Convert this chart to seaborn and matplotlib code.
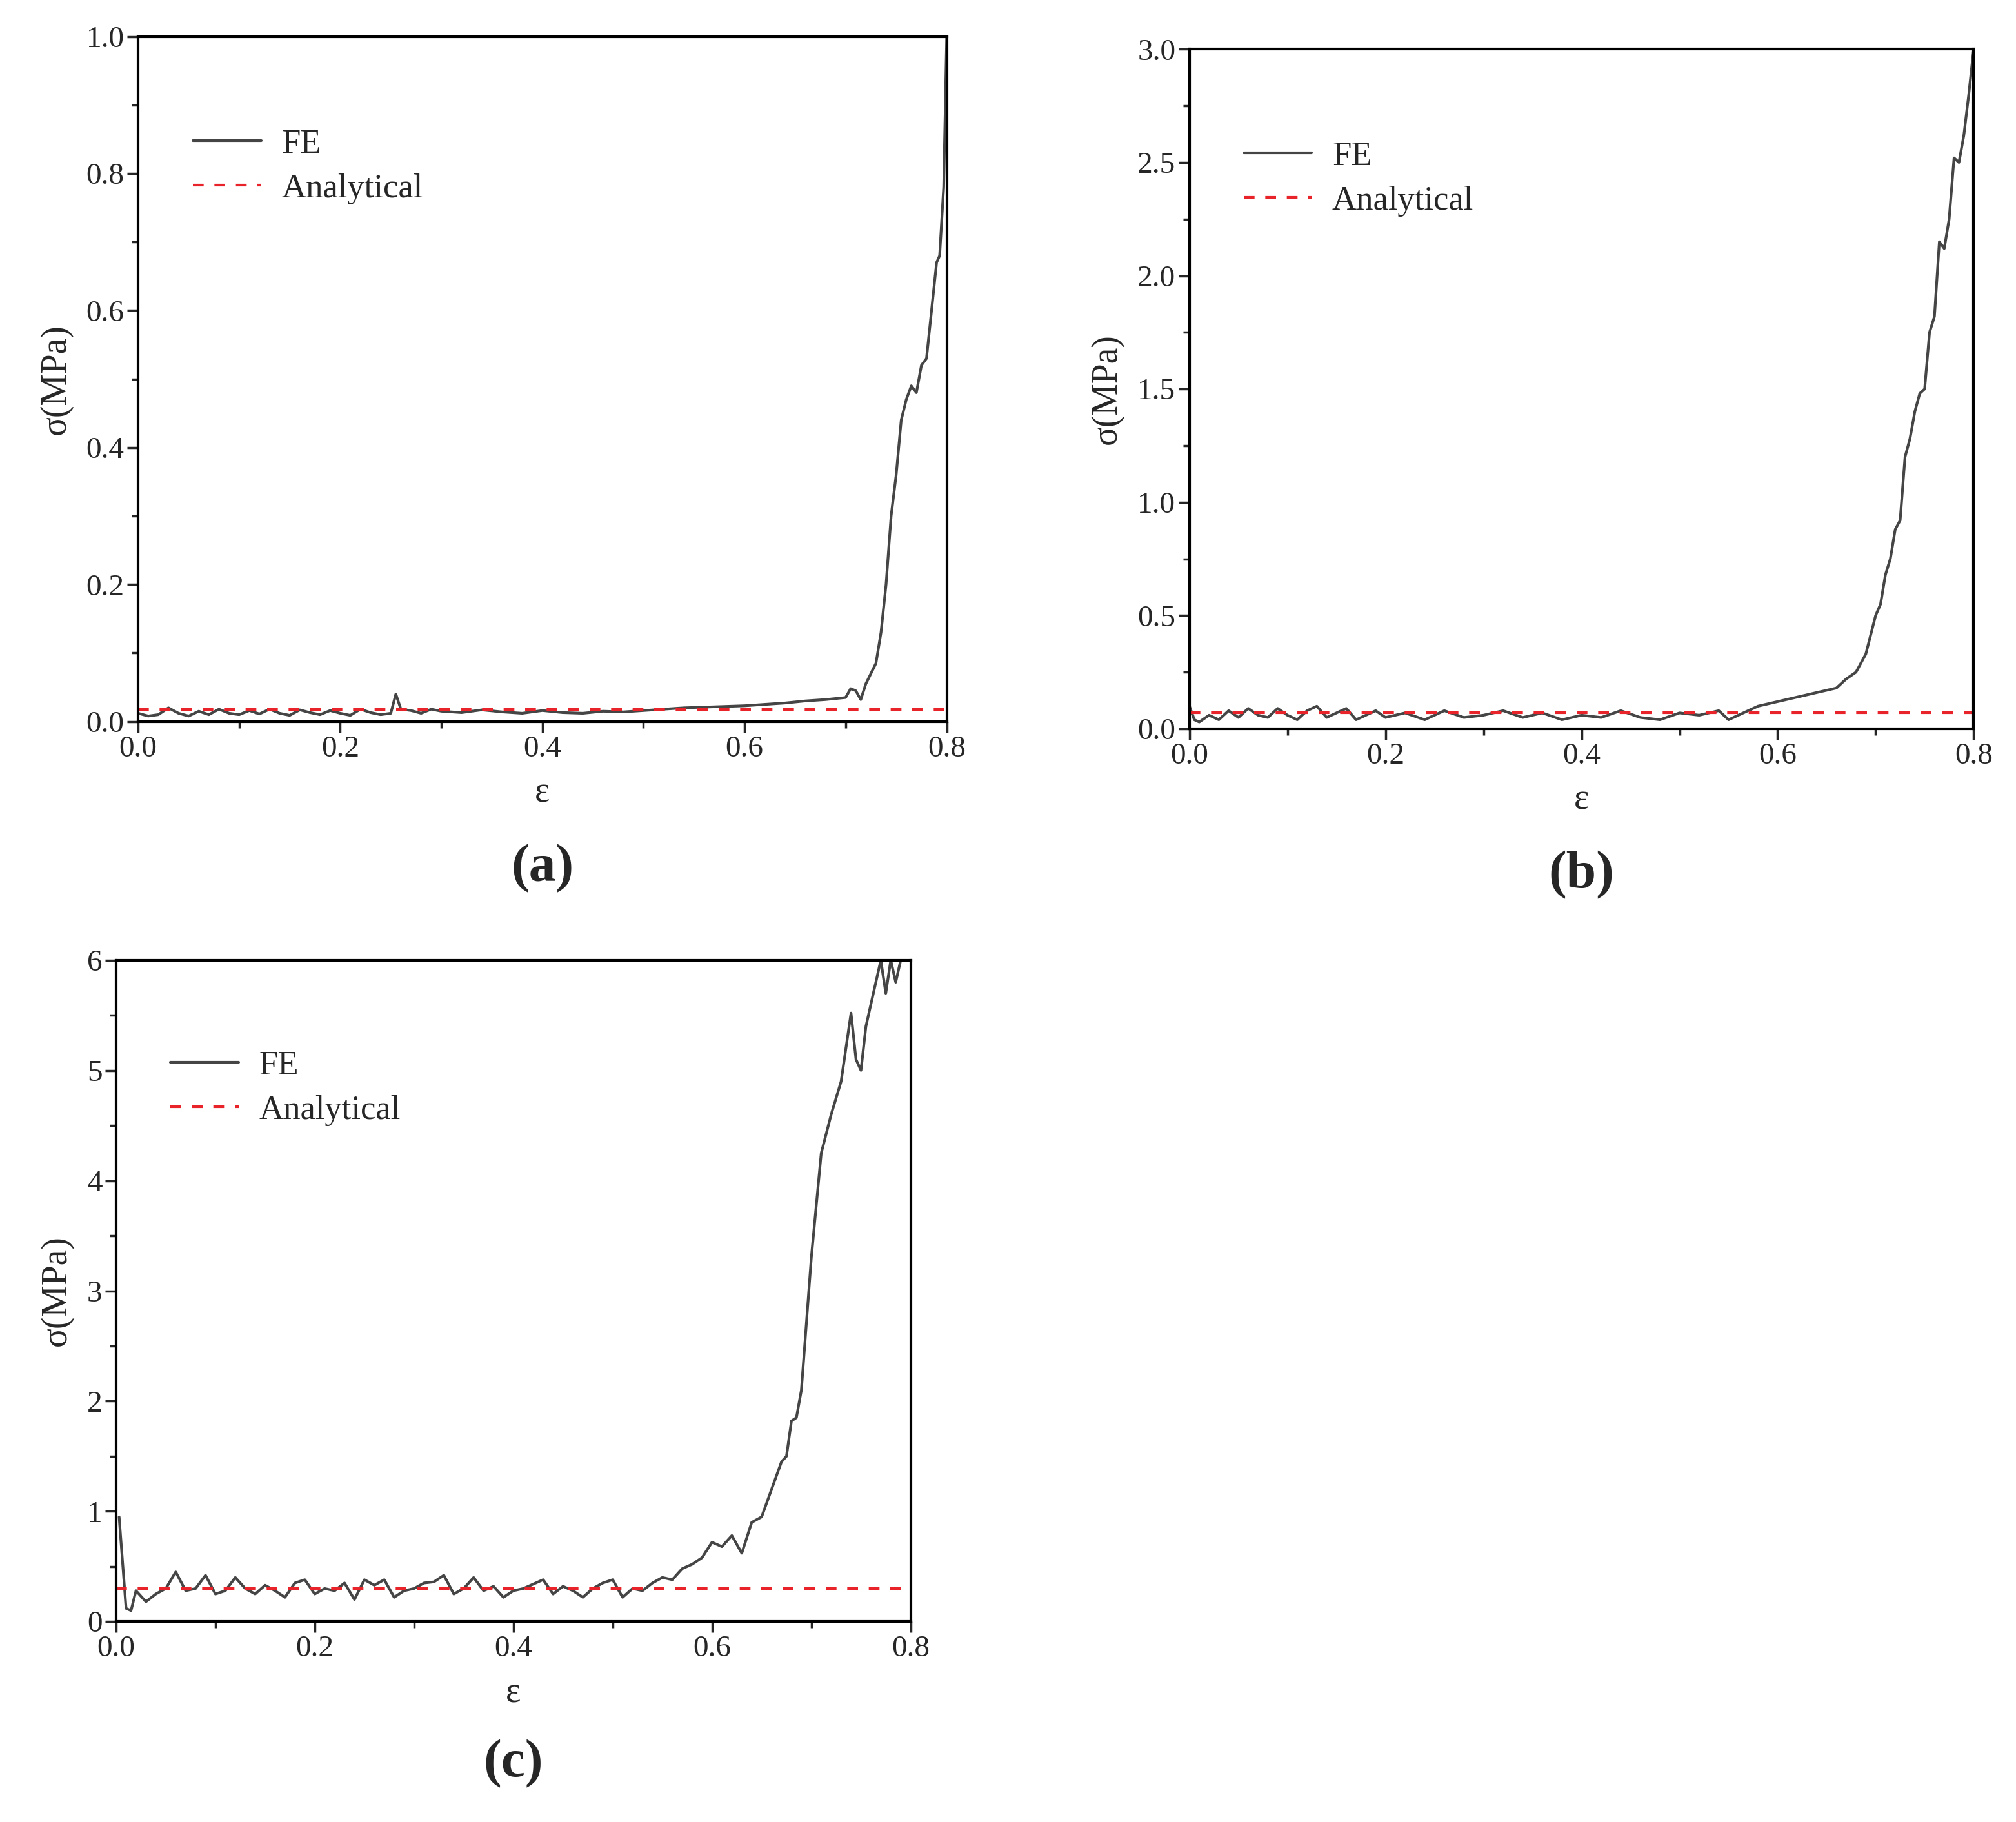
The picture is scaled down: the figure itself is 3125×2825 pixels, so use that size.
import numpy as np
import matplotlib
matplotlib.use("Agg")
import matplotlib.pyplot as plt
import seaborn as sns
import pandas as pd

sns.set_style("ticks")
plt.rcParams['font.family'] = ['Liberation Serif', 'DejaVu Serif']

# Panel (a)
a_eps_flat = [0.0,0.01,0.02,0.03,0.04,0.05,0.06,0.07,0.08,0.09,0.10,0.11,0.12,0.13,0.14,0.15,0.16,0.17,0.18,0.19,0.20,0.21,0.22,0.23,0.24,0.25,0.255,0.26,0.27,0.28,0.29,0.30,0.32,0.34,0.36,0.38,0.40,0.42,0.44,0.46,0.48,0.50,0.52,0.54,0.56,0.58,0.60,0.62,0.64,0.66,0.68,0.70]
a_sig_flat = [0.012,0.008,0.010,0.020,0.012,0.008,0.015,0.010,0.018,0.012,0.010,0.016,0.011,0.018,0.012,0.009,0.017,0.013,0.010,0.016,0.012,0.009,0.018,0.013,0.010,0.012,0.040,0.018,0.016,0.012,0.018,0.015,0.013,0.017,0.014,0.012,0.016,0.013,0.012,0.015,0.014,0.016,0.018,0.020,0.021,0.022,0.023,0.025,0.027,0.030,0.032,0.035]
a_eps_rise = [0.705,0.71,0.715,0.72,0.73,0.735,0.74,0.745,0.75,0.755,0.76,0.765,0.77,0.775,0.78,0.785,0.79,0.793,0.797,0.80]
a_sig_rise = [0.048,0.045,0.032,0.055,0.085,0.13,0.20,0.30,0.36,0.44,0.47,0.49,0.48,0.52,0.53,0.60,0.67,0.68,0.78,1.0]
a_analytical = 0.018

# Panel (b)
b_eps_flat = [0.0,0.005,0.01,0.02,0.03,0.04,0.05,0.06,0.07,0.08,0.09,0.10,0.11,0.12,0.13,0.14,0.15,0.16,0.17,0.18,0.19,0.20,0.22,0.24,0.26,0.28,0.30,0.32,0.34,0.36,0.38,0.40,0.42,0.44,0.46,0.48,0.50,0.52,0.54,0.55,0.56,0.58,0.60,0.62,0.64,0.66]
b_sig_flat = [0.10,0.04,0.03,0.06,0.04,0.08,0.05,0.09,0.06,0.05,0.09,0.06,0.04,0.08,0.10,0.05,0.07,0.09,0.04,0.06,0.08,0.05,0.07,0.04,0.08,0.05,0.06,0.08,0.05,0.07,0.04,0.06,0.05,0.08,0.05,0.04,0.07,0.06,0.08,0.04,0.06,0.10,0.12,0.14,0.16,0.18]
b_eps_rise = [0.67,0.68,0.69,0.70,0.705,0.71,0.715,0.72,0.725,0.73,0.735,0.74,0.745,0.75,0.755,0.76,0.765,0.77,0.775,0.78,0.785,0.79,0.795,0.80]
b_sig_rise = [0.22,0.25,0.33,0.50,0.55,0.68,0.75,0.88,0.92,1.20,1.28,1.40,1.48,1.50,1.75,1.82,2.15,2.12,2.25,2.52,2.50,2.62,2.80,3.0]
b_analytical = 0.07

# Panel (c)
c_eps_flat = [0.003,0.01,0.015,0.02,0.03,0.04,0.05,0.06,0.07,0.08,0.09,0.10,0.11,0.12,0.13,0.14,0.15,0.16,0.17,0.18,0.19,0.20,0.21,0.22,0.23,0.24,0.25,0.26,0.27,0.28,0.29,0.30,0.31,0.32,0.33,0.34,0.35,0.36,0.37,0.38,0.39,0.40,0.41,0.42,0.43,0.44,0.45,0.46,0.47,0.48,0.49,0.50,0.51,0.52,0.53,0.54,0.55,0.56]
c_sig_flat = [0.95,0.12,0.10,0.28,0.18,0.25,0.30,0.45,0.28,0.30,0.42,0.25,0.28,0.40,0.30,0.25,0.33,0.28,0.22,0.35,0.38,0.25,0.30,0.28,0.35,0.20,0.38,0.33,0.38,0.22,0.28,0.30,0.35,0.36,0.42,0.25,0.30,0.40,0.28,0.32,0.22,0.28,0.30,0.34,0.38,0.25,0.32,0.28,0.22,0.30,0.35,0.38,0.22,0.30,0.28,0.35,0.40,0.38]
c_eps_rise = [0.57,0.58,0.59,0.60,0.61,0.62,0.63,0.64,0.65,0.66,0.67,0.675,0.68,0.685,0.69,0.70,0.71,0.72,0.73,0.74,0.745,0.75,0.755,0.76,0.77,0.775,0.78,0.785,0.79]
c_sig_rise = [0.48,0.52,0.58,0.72,0.68,0.78,0.62,0.90,0.95,1.20,1.45,1.50,1.82,1.85,2.10,3.30,4.25,4.60,4.90,5.52,5.10,5.00,5.40,5.60,6.00,5.70,6.00,5.80,6.00]
c_analytical = 0.30

panels = [
    (a_eps_flat + a_eps_rise, a_sig_flat + a_sig_rise, a_analytical, [0.0685,0.604,0.4011,0.376], (0,1.0), np.arange(0,1.01,0.2), "{:.1f}", 0.1, "(a)"),
    (b_eps_flat + b_eps_rise, b_sig_flat + b_sig_rise, b_analytical, [0.590,0.600,0.389,0.373], (0,3.0), np.arange(0,3.01,0.5), "{:.1f}", 0.25, "(b)"),
    (c_eps_flat + c_eps_rise, c_sig_flat + c_sig_rise, c_analytical, [0.0576,0.110,0.3941,0.363], (0,6), np.arange(0,6.1,1), "{:.0f}", 0.5, "(c)"),
]

fig = plt.figure(figsize=(31.25, 28.25), dpi=100)
for eps, sig, ana, rect, ylim, yt, fmt, minor, lab in panels:
    ax = fig.add_axes(rect)
    df = pd.DataFrame({"eps": eps, "sig": sig})
    sns.lineplot(data=df, x="eps", y="sig", ax=ax, color="#454545", lw=3, label="FE", sort=True)
    ax.plot([0, 0.8], [ana, ana], ls=(0, (4, 4)), color="#e8232a", lw=3, label="Analytical")
    ax.set_xlim(0, 0.8)
    ax.set_ylim(*ylim)
    ax.set_xticks(np.arange(0, 0.81, 0.2))
    ax.set_xticklabels(["{:.1f}".format(v) for v in np.arange(0, 0.81, 0.2)])
    ax.set_xticks(np.arange(0.1, 0.8, 0.2), minor=True)
    ax.set_yticks(yt)
    ax.set_yticklabels([fmt.format(v) for v in yt])
    ax.set_yticks(np.arange(minor, ylim[1], minor*2), minor=True)
    ax.tick_params(axis='both', which='major', direction='out', length=12, width=2.5, labelsize=34)
    ax.tick_params(axis='both', which='minor', direction='out', length=7, width=2.5)
    for s in ax.spines.values():
        s.set_linewidth(3); s.set_color("black"); s.set_visible(True)
    ax.set_xlabel("ε", fontsize=40, labelpad=15)
    ax.set_ylabel("σ(MPa)", fontsize=40, labelpad=15)
    ax.legend(loc="upper left", bbox_to_anchor=(0.03, 0.91), frameon=False, fontsize=38,
              handlelength=2.0, labelspacing=0.4, handletextpad=0.6)
    ax.text(0.5, -0.215, lab, transform=ax.transAxes, ha="center", va="center", fontsize=60, fontweight="bold")

fig.savefig("out.png", dpi=100, facecolor="white")
